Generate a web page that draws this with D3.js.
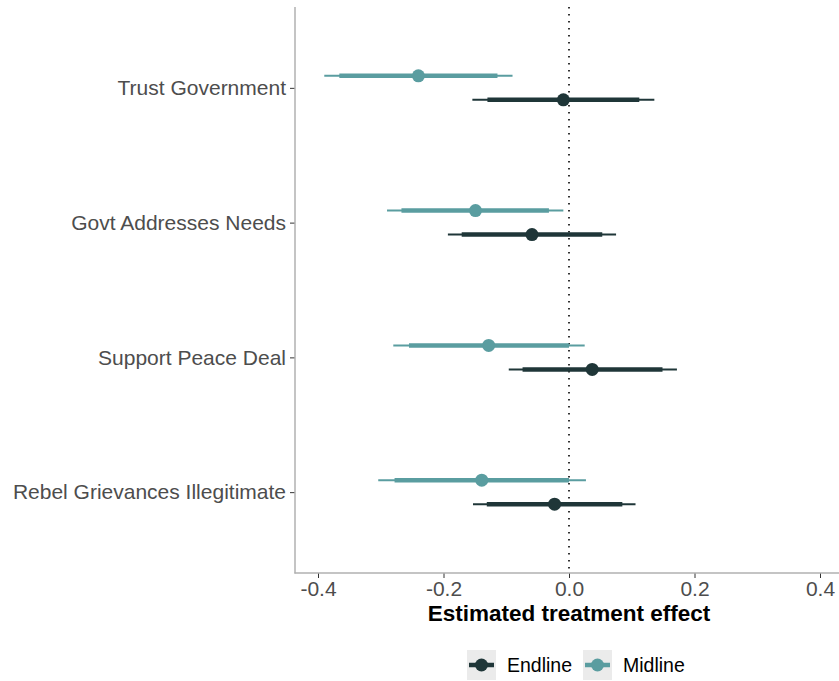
<!DOCTYPE html>
<html>
  <head>
    <meta charset="utf-8">
    <title>Estimated treatment effects</title>
    <style>
body {
  margin: 0;
  background: #fff;
}
text {
  font-family: "Liberation Sans", Arial, Helvetica, sans-serif;
}
    </style>
  </head>
  <body>
    <div id="chart"></div>
    <script src="https://cdn.jsdelivr.net/npm/d3@7/dist/d3.min.js"></script>
    <script>

    // outcomes, top to bottom
    var outcomes = ['Trust Government', 'Govt Addresses Needs', 'Support Peace Deal', 'Rebel Grievances Illegitimate'];
    var waves = ['Endline', 'Midline'];

    // point estimates
    var midlineEst = [-0.240, -0.149, -0.128, -0.139];
    var endlineEst = [-0.009, -0.059, 0.037, -0.023];
    // inner (thick) intervals
    var midlineLo90 = [-0.366, -0.267, -0.255, -0.278];
    var midlineHi90 = [-0.114, -0.032, 0.000, 0.000];
    var endlineLo90 = [-0.130, -0.171, -0.074, -0.131];
    var endlineHi90 = [0.112, 0.053, 0.149, 0.085];
    // outer (thin) intervals
    var midlineLo95 = [-0.390, -0.290, -0.280, -0.304];
    var midlineHi95 = [-0.090, -0.009, 0.025, 0.027];
    var endlineLo95 = [-0.154, -0.193, -0.096, -0.153];
    var endlineHi95 = [0.136, 0.075, 0.172, 0.106];

    var xTicks = [-0.4, -0.2, 0.0, 0.2, 0.4];

    var colors = { Endline: '#1f3638', Midline: '#5a9da0' };
    var offsets = { Midline: -12, Endline: 12 };

    var rows = [];
    outcomes.forEach(function(o, i) {
      rows.push({ outcome: o, wave: 'Midline', est: midlineEst[i],
        lo90: midlineLo90[i], hi90: midlineHi90[i], lo95: midlineLo95[i], hi95: midlineHi95[i] });
      rows.push({ outcome: o, wave: 'Endline', est: endlineEst[i],
        lo90: endlineLo90[i], hi90: endlineHi90[i], lo95: endlineLo95[i], hi95: endlineHi95[i] });
    });

    var width = 839, height = 681;
    var panel = { left: 295, right: 839, top: 7, bottom: 573 };

    var x = d3.scaleLinear().domain([-0.4, 0.4]).range([318, 820]);
    var y = d3.scalePoint().domain(outcomes).range([panel.top, panel.bottom]).padding(0.6);

    var svg = d3.select('#chart').append('svg')
        .attr('width', width)
        .attr('height', height);

    // zero reference line
    svg.append('line')
        .attr('x1', x(0)).attr('x2', x(0))
        .attr('y1', panel.top).attr('y2', panel.bottom)
        .style('stroke', '#000')
        .style('stroke-width', 1.6)
        .style('stroke-dasharray', '1.6,5.4');

    // x axis
    var xAxis = svg.append('g')
        .attr('transform', 'translate(0,' + panel.bottom + ')')
        .call(d3.axisBottom(x).tickValues(xTicks).tickFormat(d3.format('.1f')).tickSize(5).tickPadding(3));
    xAxis.select('.domain').remove();
    xAxis.selectAll('line').style('stroke', '#333').style('stroke-width', 1);
    xAxis.selectAll('text')
        .style('font-size', '21px')
        .style('fill', '#4d4d4d')
        .text(function(d) { return d3.format('.1f')(d).replace('−', '-'); });

    // y axis
    var yAxis = svg.append('g')
        .attr('transform', 'translate(' + panel.left + ',0)')
        .call(d3.axisLeft(y).tickSize(5).tickPadding(4));
    yAxis.select('.domain').remove();
    yAxis.selectAll('line').style('stroke', '#333').style('stroke-width', 1);
    yAxis.selectAll('text')
        .style('font-size', '21px')
        .style('fill', '#4d4d4d');

    // axis lines
    svg.append('line')
        .attr('x1', panel.left).attr('x2', panel.left)
        .attr('y1', panel.top).attr('y2', panel.bottom + 0.5)
        .style('stroke', '#b0b0b0').style('stroke-width', 1.5);
    svg.append('line')
        .attr('x1', panel.left - 0.5).attr('x2', panel.right)
        .attr('y1', panel.bottom).attr('y2', panel.bottom)
        .style('stroke', '#b0b0b0').style('stroke-width', 1.5);

    // estimates
    var g = svg.selectAll('g.est')
        .data(rows)
        .enter()
        .append('g')
        .attr('class', 'est')
        .attr('transform', function(d) { return 'translate(0,' + (y(d.outcome) + offsets[d.wave]) + ')'; });

    g.append('line')
        .attr('x1', function(d) { return x(d.lo95); })
        .attr('x2', function(d) { return x(d.hi95); })
        .style('stroke', function(d) { return colors[d.wave]; })
        .style('stroke-width', 2);
    g.append('line')
        .attr('x1', function(d) { return x(d.lo90); })
        .attr('x2', function(d) { return x(d.hi90); })
        .style('stroke', function(d) { return colors[d.wave]; })
        .style('stroke-width', 4.5);
    g.append('circle')
        .attr('cx', function(d) { return x(d.est); })
        .attr('r', 6.5)
        .style('fill', function(d) { return colors[d.wave]; });

    // x title
    svg.append('text')
        .attr('x', (panel.left + panel.right) / 2 + 2)
        .attr('y', 621)
        .attr('text-anchor', 'middle')
        .style('font-size', '22.5px')
        .style('font-weight', 'bold')
        .style('fill', '#000')
        .text('Estimated treatment effect');

    // legend
    var legendX = { Endline: 467, Midline: 583 };
    var lg = svg.selectAll('g.legend')
        .data(waves)
        .enter()
        .append('g')
        .attr('class', 'legend')
        .attr('transform', function(d) { return 'translate(' + legendX[d] + ',650)'; });
    lg.append('rect')
        .attr('width', 29)
        .attr('height', 30)
        .style('fill', '#ebebeb');
    lg.append('line')
        .attr('x1', 2).attr('x2', 27)
        .attr('y1', 15).attr('y2', 15)
        .style('stroke', function(d) { return colors[d]; })
        .style('stroke-width', 4.5);
    lg.append('circle')
        .attr('cx', 14.5).attr('cy', 15)
        .attr('r', 6.5)
        .style('fill', function(d) { return colors[d]; });
    lg.append('text')
        .attr('x', 40)
        .attr('y', 15)
        .attr('dy', '0.36em')
        .style('font-size', '19.5px')
        .style('fill', '#000')
        .text(function(d) { return d; });

    </script>
  </body>
</html>
